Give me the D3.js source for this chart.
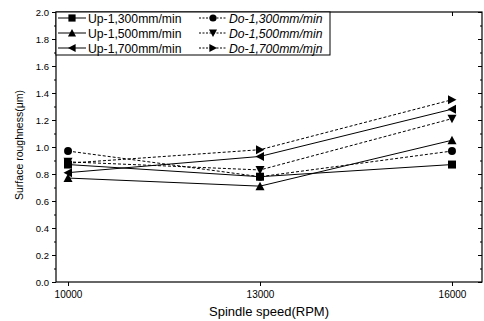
<!DOCTYPE html>
<html><head><meta charset="utf-8">
<script src="https://cdn.jsdelivr.net/npm/d3@7"></script>
<style>body{margin:0;background:#fff}svg{display:block}text{font-family:"Liberation Sans",Arial,sans-serif}</style>
</head><body><svg id="c" width="484" height="321"></svg>
<script>
const speeds = [10000, 13000, 16000];
const seriesNames = ["Up-1,300mm/min","Up-1,500mm/min","Up-1,700mm/min","Do-1,300mm/min","Do-1,500mm/min","Do-1,700mm/mjn"];
const up1300 = [0.87, 0.78, 0.87];
const up1500 = [0.77, 0.71, 1.05];
const up1700 = [0.81, 0.93, 1.28];
const do1300 = [0.97, 0.78, 0.97];
const do1500 = [0.89, 0.83, 1.21];
const do1700 = [0.88, 0.98, 1.35];
const yTicks = [0.0,0.2,0.4,0.6,0.8,1.0,1.2,1.4,1.6,1.8,2.0];
const xLabel = "Spindle speed(RPM)";
const yLabel = "Surface roughness(\u03bcm)";

const values = [up1300, up1500, up1700, do1300, do1500, do1700];
const markers = ["square","up","left","circle","down","right"];
const dashed = [false,false,false,true,true,true];

const svg = d3.select("#c");
const L=56, R=482, T=12, B=282;
const x = d3.scaleLinear().domain([9812, 16469]).range([L, R]);
const y = d3.scaleLinear().domain([0, 2]).range([B, T]);

svg.append("rect").attr("x",L).attr("y",T).attr("width",R-L).attr("height",B-T)
  .attr("fill","none").attr("stroke","#000").attr("stroke-width",1.2);

const minor = d3.range(0, 2.001, 0.1);
const ya = svg.append("g").attr("transform",`translate(${L},0)`)
  .call(d3.axisLeft(y).tickValues(yTicks).tickFormat(d3.format(".1f")).tickSize(4).tickPadding(3));
ya.select(".domain").remove();
ya.selectAll("text").attr("font-size",9.5).attr("fill","#000");
svg.append("g").attr("transform",`translate(${L},0)`)
  .call(d3.axisLeft(y).tickValues(minor).tickFormat("").tickSize(2)).select(".domain").remove();
svg.append("g").attr("transform",`translate(${R},0)`)
  .call(d3.axisLeft(y).tickValues(yTicks).tickFormat("").tickSize(4)).select(".domain").remove();
svg.append("g").attr("transform",`translate(${R},0)`)
  .call(d3.axisLeft(y).tickValues(minor).tickFormat("").tickSize(2)).select(".domain").remove();
const xa = svg.append("g").attr("transform",`translate(0,${B})`)
  .call(d3.axisBottom(x).tickValues(speeds).tickFormat(d3.format("d")).tickSize(4).tickPadding(5));
xa.select(".domain").remove();
xa.selectAll("text").attr("font-size",10).attr("fill","#000");
svg.append("g").attr("transform",`translate(0,${T})`)
  .call(d3.axisBottom(x).tickValues(speeds).tickFormat("").tickSize(4)).select(".domain").remove();

svg.append("text").attr("x",269).attr("y",316).attr("text-anchor","middle")
  .attr("font-size",13).text(xLabel);
svg.append("text").attr("transform",`translate(23,145) rotate(-90)`).attr("text-anchor","middle")
  .attr("font-size",10.5).text(yLabel);

function sym(type){
  const s=4;
  switch(type){
    case "square": return `M${-s},${-s}H${s}V${s}H${-s}Z`;
    case "circle": return d3.symbol(d3.symbolCircle, 50)();
    case "up": return `M0,${-s-0.5}L${s+0.5},${s}L${-s-0.5},${s}Z`;
    case "down": return `M0,${s+0.5}L${s+0.5},${-s}L${-s-0.5},${-s}Z`;
    case "left": return `M${-s-0.5},0L${s},${-s-0.5}L${s},${s+0.5}Z`;
    case "right": return `M${s+0.5},0L${-s},${-s-0.5}L${-s},${s+0.5}Z`;
  }
}

const line = d3.line().x((d,i)=>x(speeds[i])).y(d=>y(d));
values.forEach((v,k)=>{
  svg.append("path").attr("d",line(v)).attr("fill","none").attr("stroke","#000")
    .attr("stroke-width",1).attr("stroke-dasharray",dashed[k]?"3,2":null);
  v.forEach((d,i)=>{
    svg.append("path").attr("d",sym(markers[k]))
      .attr("transform",`translate(${x(speeds[i])},${y(d)})`).attr("fill","#000");
  });
});

const lg = svg.append("g");
lg.append("rect").attr("x",L).attr("y",T).attr("width",274).attr("height",43)
  .attr("fill","#fff").attr("stroke","#000").attr("stroke-width",1);
seriesNames.forEach((n,k)=>{
  const col = k<3?0:1, row=k%3;
  const x0 = col===0 ? 58 : 199;
  const yy = 18 + row*15;
  lg.append("line").attr("x1",x0).attr("x2",x0+28).attr("y1",yy).attr("y2",yy)
    .attr("stroke","#000").attr("stroke-width",1).attr("stroke-dasharray",dashed[k]?"2,1.5":null);
  lg.append("path").attr("d",sym(markers[k])).attr("transform",`translate(${x0+14},${yy}) scale(0.9)`).attr("fill","#000");
  lg.append("text").attr("x",x0+30).attr("y",yy+4.5).attr("font-size",12.2)
    .attr("font-style",dashed[k]?"italic":"normal").text(n);
});
</script></body></html>
